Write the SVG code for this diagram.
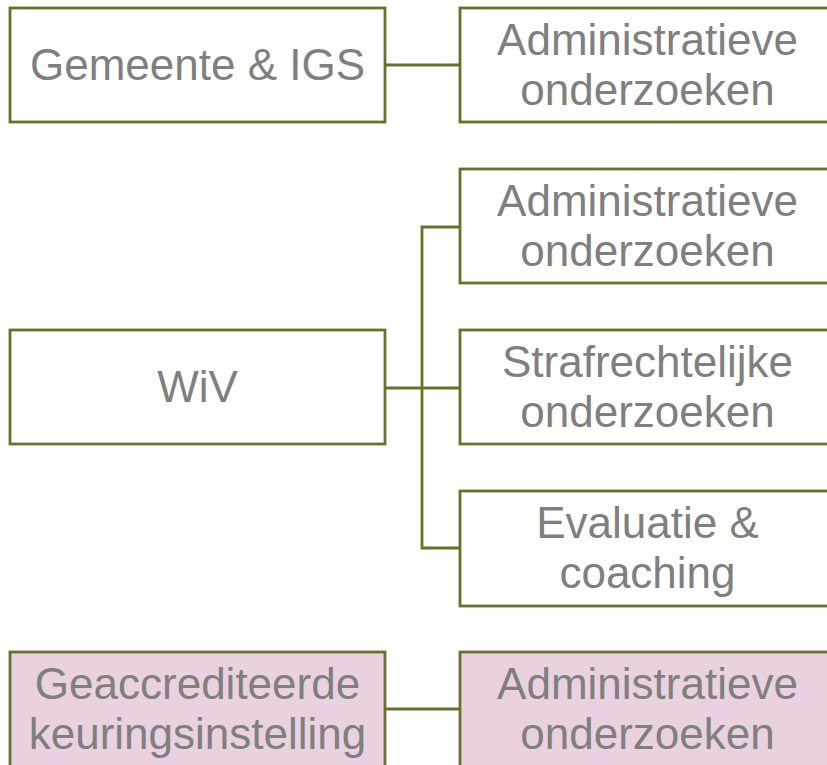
<svg xmlns="http://www.w3.org/2000/svg" width="827" height="765" viewBox="0 0 827 765">
<style>
.box{fill:#ffffff;stroke:#6e6e2b;stroke-width:2.8}
.pink{fill:#ead1df}
.t{font-family:"Liberation Sans",Arial,sans-serif;font-size:44px;fill:#7f7f7f;text-anchor:middle}
.c{fill:none;stroke:#6e6e2b;stroke-width:2.8}
</style>
<rect width="827" height="765" fill="#ffffff"/>
<g id="connectors">
<line class="c" x1="385" y1="65" x2="460" y2="65"/>
<line class="c" x1="385" y1="388" x2="422" y2="388"/>
<polyline class="c" points="460,227 422,227 422,548 460,548"/>
<line class="c" x1="422" y1="388" x2="460" y2="388"/>
<line class="c" x1="385" y1="709" x2="460" y2="709"/>
</g>
<g id="gemeente">
<rect class="box" x="10" y="8" width="375" height="114"/>
<text class="t" x="197.5" y="80">Gemeente &amp; IGS</text>
</g>
<g id="admin1">
<rect class="box" x="460" y="8" width="375" height="114"/>
<text class="t" x="647.5" y="55">Administratieve</text>
<text class="t" x="647.5" y="105">onderzoeken</text>
</g>
<g id="wiv">
<rect class="box" x="10" y="330" width="375" height="114"/>
<text class="t" x="197.5" y="402">WiV</text>
</g>
<g id="admin2">
<rect class="box" x="460" y="169" width="375" height="114"/>
<text class="t" x="647.5" y="216">Administratieve</text>
<text class="t" x="647.5" y="266">onderzoeken</text>
</g>
<g id="straf">
<rect class="box" x="460" y="330" width="375" height="114"/>
<text class="t" x="647.5" y="377">Strafrechtelijke</text>
<text class="t" x="647.5" y="427">onderzoeken</text>
</g>
<g id="evaluatie">
<rect class="box" x="460" y="491" width="375" height="115"/>
<text class="t" x="647.5" y="538">Evaluatie &amp;</text>
<text class="t" x="647.5" y="588">coaching</text>
</g>
<g id="keuring">
<rect class="box pink" x="10" y="652" width="375" height="130"/>
<text class="t" x="197.5" y="699">Geaccrediteerde</text>
<text class="t" x="197.5" y="749">keuringsinstelling</text>
</g>
<g id="admin3">
<rect class="box pink" x="460" y="652" width="375" height="130"/>
<text class="t" x="647.5" y="699">Administratieve</text>
<text class="t" x="647.5" y="749">onderzoeken</text>
</g>
</svg>
